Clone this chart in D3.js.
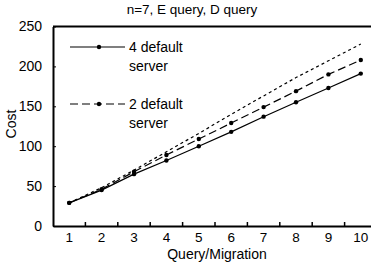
<!DOCTYPE html>
<html>
<head>
<meta charset="utf-8">
<script src="https://cdn.jsdelivr.net/npm/d3@7"></script>
<style>
  body { margin: 0; background: #fff; }
  text { font-family: "Liberation Sans", Arial, sans-serif; fill: #000; }
</style>
</head>
<body>
<svg id="chart" width="371" height="272"></svg>
<script>
// data
var queries = ["1", "2", "3", "4", "5", "6", "7", "8", "9", "10"]
var fourDefault = [29, 45, 65, 82, 100, 118, 137, 155, 173, 191]
var twoDefault = [29, 46, 68, 89, 109, 129, 149, 169, 190, 208]
var noDefault = [29, 48, 70, 93, 116, 140, 163, 186, 207, 228]
var yTicks = [0, 50, 100, 150, 200, 250]

var svg = d3.select("#chart")
// careful: "top" is taken by window.top
var plotL = 53, plotR = 377, plotT = 26.5, plotB = 226

var x = d3.scaleBand().domain(queries).range([plotL, plotR]).padding(0)
var y = d3.scaleLinear().domain([0, 250]).range([plotB, plotT])
function cx(d, i) { return x(queries[i]) + x.bandwidth() / 2 }

// title
svg.append("text")
    .attr("x", 192).attr("y", 14)
    .attr("text-anchor", "middle")
    .style("font-size", "13.5px")
    .text("n=7, E query, D query")

// y axis
var yAxis = svg.append("g")
    .attr("transform", "translate(" + plotL + ",0)")
    .call(d3.axisLeft(y).tickValues(yTicks).tickSizeInner(-3).tickSizeOuter(0).tickPadding(11))
yAxis.select(".domain").attr("stroke-width", 2)
yAxis.selectAll("text").style("font-size", "14px")

// x axis: labels at band centres, little ticks on the band edges
var xAxis = svg.append("g")
    .attr("transform", "translate(0," + plotB + ")")
    .call(d3.axisBottom(x).tickSize(0).tickPadding(6))
xAxis.select(".domain").attr("stroke-width", 2)
xAxis.selectAll("text").style("font-size", "13.5px")
xAxis.selectAll("line.edge")
    .data(queries.slice(1))
    .enter().append("line")
    .attr("class", "edge")
    .attr("x1", function(d) { return x(d) }).attr("x2", function(d) { return x(d) })
    .attr("y1", 0).attr("y2", -4)
    .attr("stroke", "#000").attr("stroke-width", 1.5)

// top frame line
svg.append("line")
    .attr("x1", plotL).attr("x2", plotR)
    .attr("y1", plotT).attr("y2", plotT)
    .attr("stroke", "#000").attr("stroke-width", 2)

// axis titles
svg.append("text")
    .attr("x", 217).attr("y", 259)
    .attr("text-anchor", "middle")
    .style("font-size", "14px")
    .text("Query/Migration")
svg.append("text")
    .attr("transform", "translate(16,124) rotate(-90)")
    .attr("text-anchor", "middle")
    .style("font-size", "14px")
    .text("Cost")

var line = d3.line().x(cx).y(function(d) { return y(d) })

var series = [
    { vals: fourDefault, dash: null, dots: true },
    { vals: twoDefault, dash: "8,4", dots: true },
    { vals: noDefault, dash: "3,3", dots: false }
]

series.forEach(function(s) {
    svg.append("path")
        .datum(s.vals)
        .attr("d", line)
        .attr("fill", "none")
        .attr("stroke", "#000")
        .attr("stroke-width", 1.2)
        .attr("stroke-dasharray", s.dash)
    if (s.dots) {
        svg.append("g").selectAll("circle")
            .data(s.vals)
            .enter().append("circle")
            .attr("cx", cx)
            .attr("cy", function(d) { return y(d) })
            .attr("r", 2.2)
            .attr("fill", "#000")
    }
})

// legend
var legend = [
    { label: ["4 default", "server"], dash: null, ly: 47 },
    { label: ["2 default", "server"], dash: "8,4", ly: 104 }
]
legend.forEach(function(l) {
    svg.append("line")
        .attr("x1", 70).attr("x2", 125)
        .attr("y1", l.ly).attr("y2", l.ly)
        .attr("stroke", "#000").attr("stroke-width", 1.2)
        .attr("stroke-dasharray", l.dash)
    svg.append("circle")
        .attr("cx", 99).attr("cy", l.ly).attr("r", 2.2).attr("fill", "#000")
    l.label.forEach(function(t, k) {
        svg.append("text")
            .attr("x", 129).attr("y", l.ly + 5 + k * 19)
            .style("font-size", "14px")
            .text(t)
    })
})
</script>
</body>
</html>
